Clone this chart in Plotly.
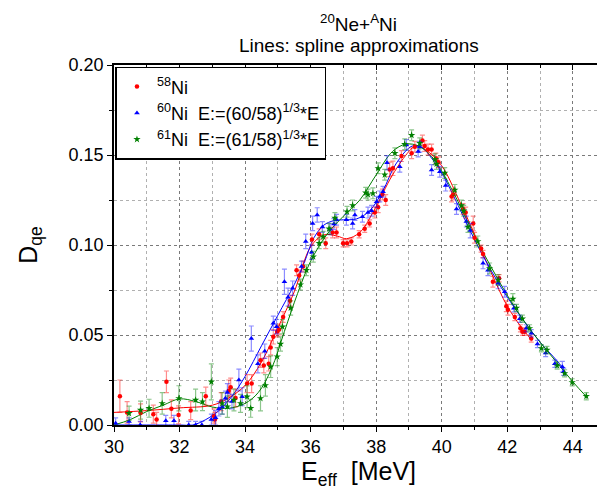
import plotly.graph_objects as go

# ---------------- data ----------------
ni58_E = [30.18, 30.40, 30.81, 31.20, 31.30, 31.60, 31.75, 31.97, 32.34, 32.80, 33.05, 33.08, 33.27, 33.50,
          33.56, 33.71, 34.06, 34.20, 34.47, 34.57, 34.72, 34.78, 34.86, 34.98, 35.04, 35.16, 35.37, 35.57,
          35.65, 35.77, 36.04, 36.26, 36.46, 36.67, 36.79, 36.99, 37.11, 37.24, 37.48, 37.65, 37.80, 37.96,
          38.06, 38.19, 38.29, 38.41, 38.51, 38.77, 39.08, 39.18, 39.41, 39.48, 39.58, 39.69, 39.82, 39.90,
          40.30, 40.35, 40.65, 40.73, 40.96, 41.00, 41.20, 41.26, 41.56, 41.75, 41.97, 42.02, 42.23, 42.40,
          42.46, 42.53, 42.73]
ni58_D = [0.016, 0.007, 0.0067, 0.006, 0.003, 0.024, 0.009, 0.0056, 0.008, 0.016, 0.005, 0.003, 0.013, 0.019,
          0.021, 0.015, 0.023, 0.023, 0.036, 0.033, 0.034, 0.043, 0.049, 0.052, 0.053, 0.060, 0.069, 0.086,
          0.083, 0.088, 0.103, 0.106, 0.101, 0.107, 0.107, 0.101, 0.101, 0.102, 0.106, 0.109, 0.112, 0.118,
          0.121, 0.128, 0.125, 0.142, 0.1426, 0.1494, 0.151, 0.1546, 0.158, 0.155, 0.153, 0.153, 0.148, 0.146,
          0.127, 0.128, 0.120, 0.118, 0.112, 0.104, 0.098, 0.095, 0.0796, 0.0815, 0.066, 0.064, 0.060, 0.0537,
          0.0518, 0.0518, 0.048]
ni58_err = [0.009, 0.006, 0.005, 0.005, 0.004, 0.006, 0.005, 0.005, 0.005, 0.005, 0.004, 0.004, 0.005, 0.006,
            0.005, 0.005, 0.005, 0.005, 0.004, 0.004, 0.004, 0.004, 0.004, 0.003, 0.003, 0.003, 0.003, 0.003,
            0.003, 0.003, 0.003, 0.003, 0.003, 0.003, 0.003, 0.002, 0.002, 0.002, 0.002, 0.002, 0.002, 0.003,
            0.003, 0.003, 0.003, 0.004, 0.004, 0.003, 0.003, 0.003, 0.003, 0.003, 0.003, 0.003, 0.003, 0.003,
            0.003, 0.003, 0.003, 0.003, 0.004, 0.003, 0.002, 0.002, 0.003, 0.002, 0.003, 0.003, 0.002, 0.002,
            0.002, 0.002, 0.002]

ni60_E = [30.05, 30.46, 30.80, 31.58, 31.83, 32.28, 32.49, 32.68, 32.97, 33.10, 33.20, 33.30, 33.40, 33.46,
          33.60, 33.81, 33.91, 34.19, 34.39, 34.60, 34.86, 34.96, 35.20, 35.31, 35.45, 35.72, 35.85, 36.03,
          36.06, 36.20, 36.36, 36.59, 36.71, 36.79, 37.09, 37.28, 37.35, 37.58, 37.75, 37.86, 38.01, 38.11,
          38.21, 38.33, 38.72, 38.92, 39.28, 39.33, 39.69, 39.94, 40.12, 40.45, 40.75, 40.87, 41.26, 41.41,
          41.72, 41.92, 42.20, 42.38, 42.58, 42.73, 42.92, 43.17, 43.45, 43.68, 43.72]
ni60_D = [0.001, 0.002, 0.000, 0.0024, 0.0024, 0.000, 0.000, 0.000, 0.003, 0.004, 0.009, 0.010, 0.0148, 0.018,
          0.013, 0.025, 0.0157, 0.048, 0.034, 0.041, 0.0565, 0.0546, 0.0796, 0.071, 0.076, 0.088, 0.102, 0.096,
          0.112, 0.1167, 0.110, 0.1087, 0.1117, 0.114, 0.114, 0.112, 0.1167, 0.1157, 0.118, 0.119, 0.124, 0.127,
          0.1296, 0.1457, 0.1435, 0.1555, 0.152, 0.1546, 0.1417, 0.1407, 0.133, 0.120, 0.113, 0.108, 0.0898, 0.086,
          0.0787, 0.074, 0.0648, 0.059, 0.0537, 0.051, 0.045, 0.040, 0.034, 0.0324, 0.0296]
ni60_err = [0.003, 0.002, 0.002, 0.003, 0.003, 0.002, 0.002, 0.002, 0.003, 0.004, 0.004, 0.004, 0.004, 0.005,
            0.004, 0.006, 0.005, 0.007, 0.005, 0.004, 0.004, 0.004, 0.007, 0.005, 0.004, 0.003, 0.004, 0.004,
            0.004, 0.004, 0.003, 0.003, 0.003, 0.003, 0.003, 0.003, 0.003, 0.003, 0.003, 0.003, 0.003, 0.003,
            0.003, 0.004, 0.003, 0.003, 0.003, 0.003, 0.003, 0.003, 0.003, 0.003, 0.003, 0.004, 0.003, 0.003,
            0.003, 0.003, 0.002, 0.002, 0.002, 0.002, 0.002, 0.002, 0.002, 0.003, 0.002]

ni61_E = [30.46, 30.81, 31.07, 31.47, 31.98, 32.49, 32.70, 32.97, 33.30, 33.46, 33.66, 33.86, 34.06, 34.17,
          34.47, 34.62, 34.78, 34.98, 35.08, 35.14, 35.39, 35.69, 35.87, 36.08, 36.26, 36.38, 36.56, 36.74,
          37.11, 37.28, 37.68, 37.75, 37.90, 38.06, 38.26, 38.57, 38.87, 39.08, 39.33, 39.79, 39.84, 40.09,
          40.40, 40.60, 40.67, 40.80, 41.10, 41.46, 41.72, 42.17, 42.28, 42.46, 42.68, 43.04, 43.21, 43.52,
          43.75, 43.98, 44.41]
ni61_D = [0.0065, 0.0083, 0.0093, 0.012, 0.0148, 0.0139, 0.013, 0.024, 0.012, 0.0102, 0.0139, 0.012, 0.0157, 0.0093,
          0.0148, 0.022, 0.0324, 0.038, 0.045, 0.0546, 0.065, 0.078, 0.086, 0.0935, 0.101, 0.1046, 0.109, 0.115,
          0.1185, 0.122, 0.129, 0.128, 0.1287, 0.1426, 0.139, 0.151, 0.156, 0.161, 0.1565, 0.1476, 0.145, 0.140,
          0.1306, 0.122, 0.119, 0.110, 0.102, 0.087, 0.0806, 0.070, 0.065, 0.059, 0.0537, 0.0426, 0.0417, 0.033,
          0.0287, 0.0237, 0.016]
ni61_err = [0.004, 0.005, 0.005, 0.006, 0.007, 0.006, 0.005, 0.010, 0.006, 0.006, 0.006, 0.005, 0.006, 0.005,
            0.007, 0.006, 0.006, 0.005, 0.004, 0.004, 0.004, 0.003, 0.003, 0.003, 0.003, 0.003, 0.003, 0.003,
            0.003, 0.003, 0.003, 0.003, 0.003, 0.003, 0.003, 0.003, 0.003, 0.003, 0.003, 0.003, 0.003, 0.003,
            0.003, 0.003, 0.003, 0.003, 0.003, 0.003, 0.003, 0.003, 0.002, 0.002, 0.002, 0.002, 0.002, 0.002,
            0.002, 0.002, 0.002]

# spline approximation knots
fit58_E = [30.0, 31.0, 32.0, 33.0, 33.5, 34.0, 34.5, 35.0, 35.5, 36.0, 36.4, 36.8, 37.1, 37.5, 37.9,
           38.5, 39.0, 39.2, 39.5, 40.0, 40.5, 41.0, 41.5, 42.0, 42.4, 42.75]
fit58_D = [0.007, 0.008, 0.0095, 0.011, 0.015, 0.022, 0.035, 0.054, 0.074, 0.099, 0.1056, 0.105, 0.1035, 0.107, 0.118,
           0.139, 0.152, 0.155, 0.153, 0.144, 0.126, 0.106, 0.085, 0.066, 0.055, 0.047]
fit60_E = [30.0, 31.0, 32.0, 32.4, 32.8, 33.2, 33.6, 34.0, 34.5, 35.0, 35.5, 35.8, 36.1, 36.4, 36.7, 37.0,
           37.4, 37.8, 38.2, 38.6, 39.1, 39.4, 39.7, 40.0, 40.5, 41.0, 41.5, 42.0, 42.5, 43.0, 43.5, 43.72]
fit60_D = [0.0, 0.0, 0.0, 0.0, 0.003, 0.008, 0.016, 0.027, 0.044, 0.061, 0.078, 0.090, 0.104, 0.111, 0.1135, 0.114,
           0.1145, 0.119, 0.130, 0.145, 0.155, 0.154, 0.148, 0.140, 0.122, 0.103, 0.086, 0.071, 0.058, 0.046, 0.036, 0.031]
fit61_E = [30.0, 30.5, 31.0, 31.5, 32.0, 32.5, 33.0, 33.5, 34.0, 34.4, 34.8, 35.2, 35.6, 36.0, 36.5, 37.0,
           37.5, 38.0, 38.5, 38.9, 39.3, 39.7, 40.0, 40.5, 41.0, 41.5, 42.0, 42.5, 43.0, 43.5, 44.0, 44.45]
fit61_D = [0.0, 0.003, 0.0075, 0.011, 0.0145, 0.013, 0.010, 0.0093, 0.012, 0.018, 0.031, 0.052, 0.073, 0.091, 0.106, 0.116,
           0.125, 0.139, 0.152, 0.156, 0.155, 0.149, 0.141, 0.124, 0.105, 0.088, 0.072, 0.058, 0.046, 0.035, 0.024, 0.015]

x_ticks = [30, 32, 34, 36, 38, 40, 42, 44]
y_ticks = [0.00, 0.05, 0.10, 0.15, 0.20]

FONT = "Liberation Sans, Arial, sans-serif"
RED, BLUE, GREEN = "#ff0000", "#0000ff", "#008000"

fig = go.Figure()

series = [
    (ni58_E, ni58_D, ni58_err, RED, "rgba(255,0,0,0.45)", "circle", 4.5, "<sup>58</sup>Ni"),
    (ni60_E, ni60_D, ni60_err, BLUE, "rgba(0,0,255,0.45)", "triangle-up", 5,
     "<sup>60</sup>Ni\u00a0\u00a0E:=(60/58)<sup>1/3</sup>*E"),
    (ni61_E, ni61_D, ni61_err, GREEN, "rgba(0,128,0,0.45)", "star", 5.5,
     "<sup>61</sup>Ni\u00a0\u00a0E:=(61/58)<sup>1/3</sup>*E"),
]
fits = [(fit58_E, fit58_D, RED), (fit60_E, fit60_D, BLUE), (fit61_E, fit61_D, GREEN)]

for fe, fd, col in fits:
    fig.add_trace(go.Scatter(x=fe, y=fd, mode="lines", line=dict(color=col, width=1, shape="spline", smoothing=1.0),
                             showlegend=False, hoverinfo="skip"))

for ex, dy, er, col, ecol, sym, sz, name in series:
    fig.add_trace(go.Scatter(
        x=ex, y=dy, mode="markers", name=name,
        marker=dict(color=col, symbol=sym, size=sz, line=dict(width=0)),
        error_y=dict(type="data", array=er, visible=True, color=ecol, thickness=1.2, width=2.5),
    ))

# invisible trace on the mirror axes so their inside ticks are drawn
fig.add_trace(go.Scatter(x=[30], y=[0], xaxis="x2", yaxis="y2", mode="markers",
                         marker=dict(opacity=0), showlegend=False, hoverinfo="skip"))

axis_common = dict(showline=True, linecolor="black", linewidth=1.5, zeroline=False, automargin=False,
                   mirror=True,
                   tickfont=dict(family=FONT, size=18, color="black"), ticks="outside",
                   ticklen=5, tickwidth=1.2, tickcolor="black")

fig.update_layout(
    width=605, height=497,
    margin=dict(l=106, r=10, t=57, b=80, autoexpand=False),
    paper_bgcolor="white", plot_bgcolor="white",
    font=dict(family=FONT, color="black"),
    annotations=[
        dict(text="<sup>20</sup>Ne+<sup>A</sup>Ni", xref="paper", yref="paper", x=0.5, y=1,
             xanchor="center", yanchor="middle", yshift=42, showarrow=False,
             font=dict(family=FONT, size=19, color="black")),
        dict(text="Lines: spline approximations", xref="paper", yref="paper", x=0.5, y=1,
             xanchor="center", yanchor="middle", yshift=20, showarrow=False,
             font=dict(family=FONT, size=19, color="black")),
    ],
    xaxis=dict(range=[30, 44.92], tickvals=x_ticks, ticktext=[str(v) for v in x_ticks],
               showgrid=True, gridcolor="#7a7a7a", griddash="dot", gridwidth=1,
               minor=dict(dtick=1, tick0=30, showgrid=True, gridcolor="#b0b0b0", griddash="dot",
                          ticks="outside", ticklen=3, tickcolor="black"),
               title=dict(text="E<sub>eff</sub>\u00a0\u00a0[MeV]", font=dict(family=FONT, size=25), standoff=4),
               **axis_common),
    yaxis=dict(range=[0, 0.2], tickvals=y_ticks, ticktext=["%.2f" % v for v in y_ticks],
               showgrid=True, gridcolor="#7a7a7a", griddash="dot", gridwidth=1,
               minor=dict(dtick=0.025, tick0=0, showgrid=True, gridcolor="#b0b0b0", griddash="dot",
                          ticks="outside", ticklen=3, tickcolor="black"),
               title=dict(text="D<sub>qe</sub>", font=dict(family=FONT, size=25), standoff=24),
               **axis_common),
    xaxis2=dict(overlaying="x", side="top", matches="x", range=[30, 44.92], tickvals=x_ticks,
                showticklabels=False, ticks="inside", ticklen=5, tickcolor="black", showgrid=False,
                showline=False, zeroline=False, automargin=False,
                minor=dict(dtick=1, tick0=30, ticks="inside", ticklen=3, tickcolor="black")),
    yaxis2=dict(overlaying="y", side="right", range=[0, 0.2], tickvals=y_ticks,
                showticklabels=False, ticks="inside", ticklen=5, tickcolor="black", showgrid=False,
                showline=False, zeroline=False, automargin=False,
                minor=dict(dtick=0.025, tick0=0, ticks="inside", ticklen=3, tickcolor="black")),
    legend=dict(x=0.003, y=0.995, xanchor="left", yanchor="top", bgcolor="white",
                bordercolor="black", borderwidth=1.5, font=dict(family=FONT, size=18, color="black"),
                tracegroupgap=0, itemwidth=30),
    showlegend=True,
)

fig.write_html("out.html")
